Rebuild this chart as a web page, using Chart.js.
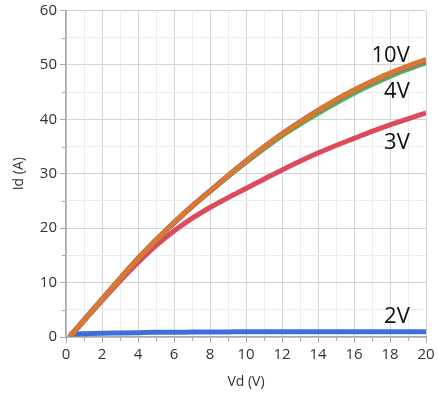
<!DOCTYPE html>
<html>
<head>
<meta charset="utf-8">
<script src="https://cdn.jsdelivr.net/npm/chart.js@4/dist/chart.umd.min.js"></script>
<style>
html,body{margin:0;padding:0;background:#fff;}
#wrap{width:438px;height:396px;position:relative;}
</style>
</head>
<body>
<div id="wrap"><canvas id="c" width="438" height="396"></canvas></div>
<script>
// Data
const vd      = [0.2, 1, 2, 3, 4, 5, 6, 7, 8, 9, 10, 11, 12, 13, 14, 15, 16, 17, 18, 19, 20];
const id10V   = [0, 3.1, 6.9, 10.7, 14.4, 17.8, 21.0, 24.0, 26.8, 29.6, 32.3, 34.9, 37.3, 39.5, 41.6, 43.6, 45.4, 47.0, 48.5, 49.8, 51.0];
const id5V    = [0, 3.1, 6.9, 10.7, 14.4, 17.8, 21.0, 24.0, 26.8, 29.6, 32.3, 34.9, 37.3, 39.5, 41.6, 43.5, 45.3, 46.9, 48.4, 49.7, 50.8];
const id4V    = [0, 3.1, 6.9, 10.7, 14.4, 17.8, 21.0, 24.0, 26.8, 29.5, 32.1, 34.6, 37.0, 39.1, 41.1, 43.0, 44.8, 46.4, 47.9, 49.2, 50.4];
const id3V    = [0, 3.0, 6.7, 10.3, 13.7, 16.8, 19.5, 21.8, 23.8, 25.6, 27.3, 29.0, 30.7, 32.3, 33.8, 35.2, 36.5, 37.8, 39.0, 40.1, 41.2];
const id2V    = [0.55, 0.6, 0.7, 0.75, 0.8, 0.85, 0.88, 0.9, 0.93, 0.94, 0.95, 0.95, 0.95, 0.95, 0.95, 0.95, 0.95, 0.95, 0.95, 0.95, 0.95];
const curveLabels = ['10V', '4V', '3V', '2V'];
const labelX      = [19.1, 19.1, 19.1, 19.1];
const labelY      = [50.5, 43.9, 34.6, 2.6];
const xTicks = [0, 2, 4, 6, 8, 10, 12, 14, 16, 18, 20];
const yTicks = [0, 10, 20, 30, 40, 50, 60];

const pts = arr => vd.map((x, i) => ({x: x, y: arr[i]}));
const FONT = "'Open Sans', 'Noto Sans', sans-serif";

const minorTicks = {
  id: 'minorTicks',
  afterDraw(chart) {
    const ctx = chart.ctx, xs = chart.scales.x, ys = chart.scales.y;
    ctx.save();
    ctx.strokeStyle = '#a8a8a8';
    ctx.lineWidth = 1;
    ctx.beginPath();
    for (let v = 1; v < 20; v += 2) {
      const px = Math.round(xs.getPixelForValue(v)) + 0.5;
      ctx.moveTo(px, ys.bottom); ctx.lineTo(px, ys.bottom + 4);
    }
    for (let v = 5; v < 60; v += 10) {
      const py = Math.round(ys.getPixelForValue(v)) + 0.5;
      ctx.moveTo(xs.left, py); ctx.lineTo(xs.left - 4, py);
    }
    ctx.stroke();
    // curve labels
    ctx.fillStyle = '#111';
    ctx.font = '22px ' + FONT;
    ctx.textAlign = 'right';
    ctx.textBaseline = 'alphabetic';
    curveLabels.forEach((t, i) => {
      ctx.fillText(t, xs.getPixelForValue(labelX[i]), ys.getPixelForValue(labelY[i]));
    });
    ctx.restore();
  }
};

new Chart(document.getElementById('c'), {
  type: 'line',
  data: {
    datasets: [
      {label: '10V', data: pts(id10V), borderColor: '#d87a2c', borderWidth: 5},
      {label: '5V',  data: pts(id5V),  borderColor: '#9b59c8', borderWidth: 5.5},
      {label: '4V',  data: pts(id4V),  borderColor: '#4cb848', borderWidth: 5},
      {label: '3V',  data: pts(id3V),  borderColor: '#dc4b5a', borderWidth: 5},
      {label: '2V',  data: pts(id2V),  borderColor: '#3d6fdc', borderWidth: 5}
    ]
  },
  options: {
    responsive: false,
    animation: false,
    elements: {
      point: {radius: 0},
      line: {tension: 0.4, cubicInterpolationMode: 'monotone', borderCapStyle: 'butt'}
    },
    layout: {padding: {left: 0, right: 12, top: 9, bottom: 0}},
    plugins: {legend: {display: false}, tooltip: {enabled: false}},
    scales: {
      x: {
        type: 'linear', min: 0, max: 20,
        afterBuildTicks: s => { const t = []; for (let v = 0; v <= 20; v++) t.push({value: v}); s.ticks = t; },
        afterFit: s => { s.height = 59; },
        ticks: {
          autoSkip: false, maxRotation: 0, padding: 3,
          color: '#333', font: {family: FONT, size: 15},
          callback: v => (xTicks.includes(v) ? String(v) : '')
        },
        grid: {
          color: c => (c.tick && c.tick.value % 2 === 0 ? '#d4d4d4' : '#ececec'),
          lineWidth: 1,
          tickLength: 6,
          tickColor: c => (c.tick && c.tick.value % 2 === 0 ? '#a8a8a8' : 'rgba(0,0,0,0)')
        },
        border: {color: '#a8a8a8', width: 1.5},
        title: {display: true, text: 'Vd (V)', color: '#333', font: {family: FONT, size: 14}, padding: {top: 0, bottom: 6}}
      },
      y: {
        type: 'linear', min: 0, max: 60,
        afterBuildTicks: s => { const t = []; for (let v = 0; v <= 60; v += 5) t.push({value: v}); s.ticks = t; },
        afterFit: s => { s.width = 66; },
        ticks: {
          autoSkip: false, padding: 3,
          color: '#333', font: {family: FONT, size: 15, lineHeight: 1},
          callback: v => (yTicks.includes(v) ? String(v) : '')
        },
        grid: {
          color: c => (c.tick && c.tick.value % 10 === 0 ? '#d4d4d4' : '#ececec'),
          lineWidth: 1,
          tickLength: 6,
          tickColor: c => (c.tick && c.tick.value % 10 === 0 ? '#a8a8a8' : 'rgba(0,0,0,0)')
        },
        border: {color: '#a8a8a8', width: 1.5},
        title: {display: true, text: 'Id (A)', color: '#333', font: {family: FONT, size: 14}, padding: {top: 11, bottom: 0}}
      }
    }
  },
  plugins: [minorTicks]
});
</script>
</body>
</html>
